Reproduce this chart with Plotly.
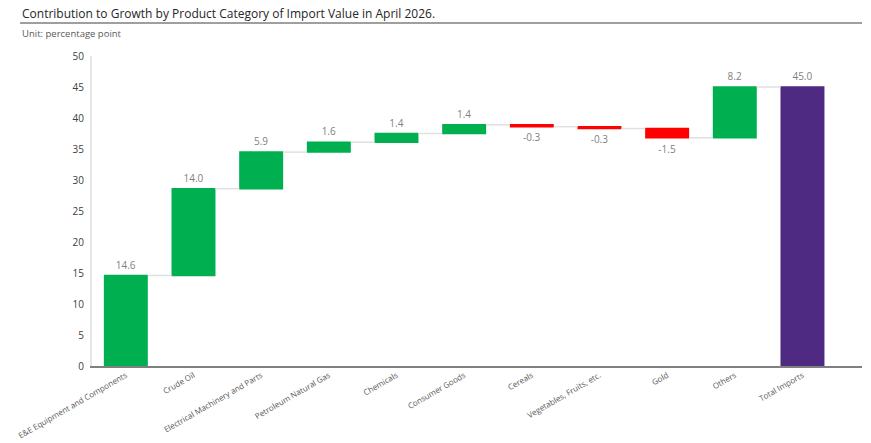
import plotly.graph_objects as go

categories = ["E&E Equipment and Components", "Crude Oil", "Electrical Machinery and Parts",
              "Petroleum Natural Gas", "Chemicals", "Consumer Goods", "Cereals",
              "Vegetables, Fruits, etc.", "Gold", "Others", "Total Imports"]
values = [14.6, 14.0, 5.9, 1.6, 1.4, 1.4, -0.3, -0.3, -1.5, 8.2, 45.0]
measures = ["relative"] * 10 + ["total"]
labels = [f"{v:.1f}" for v in values]
y_ticks = [0, 5, 10, 15, 20, 25, 30, 35, 40, 45, 50]

FONT = "Open Sans"
PW, PH = 770, 310

fig = go.Figure(go.Waterfall(
    x=categories, y=values, measure=measures,
    text=labels, textposition="outside",
    textfont=dict(family=FONT, size=10, color="#7f7f7f"),
    increasing=dict(marker=dict(color="#00b050")),
    decreasing=dict(marker=dict(color="#ff0000")),
    totals=dict(marker=dict(color="#4f2a82")),
    connector=dict(line=dict(color="#e0e0e0", width=1.5)),
    width=0.65,
    cliponaxis=False,
))

fig.update_layout(
    width=871, height=443,
    margin=dict(l=92, r=9, t=56, b=77, autoexpand=False),
    plot_bgcolor="white", paper_bgcolor="white",
    showlegend=False,
    font=dict(family=FONT, size=10, color="#404040"),
    xaxis=dict(range=[-0.5, 10.88], tickangle=-30, tickfont=dict(size=8, color="#595959"),
               showgrid=False, showline=True, linecolor="#808080", linewidth=1.5,
               ticks="", ticklen=0, automargin=False),
    yaxis=dict(range=[0, 50], tickvals=y_ticks, showgrid=False, zeroline=False,
               showline=True, linecolor="#e6e6e6", linewidth=2, automargin=False,
               tickfont=dict(size=10, color="#404040"), ticks="", ticklabelstandoff=4),
    annotations=[
        dict(text="Contribution to Growth by Product Category of Import Value in April 2026.",
             xref="paper", yref="paper", x=(20 - 92) / PW, y=1 + (56 - 13) / PH, xanchor="left",
             yanchor="middle", showarrow=False, font=dict(size=12, color="#262626", family=FONT)),
        dict(text="Unit: percentage point",
             xref="paper", yref="paper", x=(20 - 92) / PW, y=1 + (56 - 34) / PH, xanchor="left",
             yanchor="middle", showarrow=False, font=dict(size=9.5, color="#595959", family=FONT)),
    ],
    shapes=[dict(type="line", xref="paper", yref="paper", x0=(20 - 92) / PW, x1=1,
                 y0=1 + (56 - 23) / PH, y1=1 + (56 - 23) / PH,
                 line=dict(color="#7f7f7f", width=1.5))],
)

fig.write_html("out.html")
